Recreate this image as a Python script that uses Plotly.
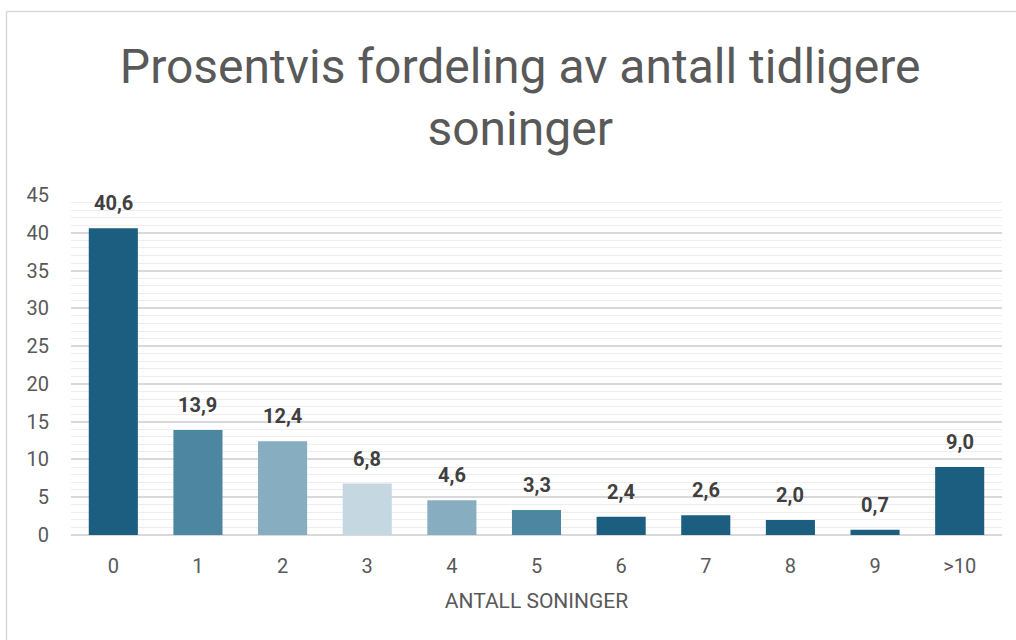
import plotly.graph_objects as go

# Data
categories = ['0', '1', '2', '3', '4', '5', '6', '7', '8', '9', '>10']
percent = [40.6, 13.9, 12.4, 6.8, 4.6, 3.3, 2.4, 2.6, 2.0, 0.7, 9.0]
bar_colors = ['#1b5e80', '#4c86a0', '#87adc0', '#c5d7e1', '#87adc0', '#4c86a0',
              '#1b5e80', '#1b5e80', '#1b5e80', '#1b5e80', '#1b5e80']

FONT = 'Roboto'
GREY = '#595959'

fig = go.Figure()

fig.add_trace(go.Bar(
    x=categories,
    y=percent,
    width=0.58,
    marker=dict(color=bar_colors, line=dict(width=0)),
    hoverinfo='x+y',
))

# Data labels above each bar
for cat, val in zip(categories, percent):
    fig.add_annotation(
        x=cat, y=val,
        text='<b>' + f'{val:.1f}'.replace('.', ',') + '</b>',
        showarrow=False, yanchor='bottom', yshift=11,
        font=dict(family=FONT, size=20, color='#404040'),
    )

fig.update_layout(
    width=1016, height=640,
    margin=dict(l=71, r=14, t=195, b=105),
    paper_bgcolor='white', plot_bgcolor='white',
    font=dict(family=FONT, color=GREY),
    showlegend=False,
    title=dict(
        text='Prosentvis fordeling av antall tidligere<br>soninger',
        font=dict(family=FONT, size=48, color=GREY),
        x=0.512, xanchor='center', xref='container',
        y=1 - 83 / 640, yanchor='middle', yref='container',
    ),
    xaxis=dict(
        showgrid=False, showline=False, zeroline=False,
        ticks='outside', ticklen=13, tickcolor='rgba(0,0,0,0)',
        tickfont=dict(size=20, color=GREY),
        title=dict(text='ANTALL SONINGER', font=dict(size=21, color=GREY), standoff=16),
    ),
    yaxis=dict(
        range=[0, 45], dtick=5,
        showgrid=True, gridcolor='#d9d9d9', gridwidth=1.5,
        minor=dict(dtick=1, showgrid=True, gridcolor='#eeeeee', gridwidth=1),
        zeroline=True, zerolinecolor='#d9d9d9', zerolinewidth=1.5,
        showline=False,
        ticks='outside', ticklen=17, tickcolor='rgba(0,0,0,0)',
        tickfont=dict(size=20, color=GREY),
    ),
    shapes=[
        # outer chart frame (left and top edges visible)
        dict(type='line', xref='paper', yref='paper',
             x0=(6.5 - 71) / 931, x1=(6.5 - 71) / 931, y0=-0.5, y1=(535 - 11.5) / 340,
             line=dict(color='#d9d9d9', width=1.5), layer='below'),
        dict(type='line', xref='paper', yref='paper',
             x0=(6.5 - 71) / 931, x1=1.2, y0=(535 - 11.5) / 340, y1=(535 - 11.5) / 340,
             line=dict(color='#d9d9d9', width=1.5), layer='below'),
    ],
)

fig.write_html('out.html', config={'displayModeBar': False},
               post_script="document.body.style.margin='0';")
